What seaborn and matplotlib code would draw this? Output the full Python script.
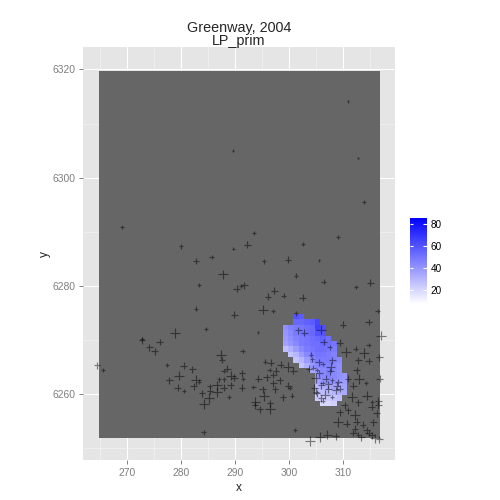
import numpy as np
import matplotlib
matplotlib.use("Agg")
import matplotlib.pyplot as plt
from matplotlib.colors import LinearSegmentedColormap
import seaborn as sns

na = np.nan

# ---- raster data: LP_prim values on a 1 km grid (rows listed from north to south) ----
blob = np.array([
    [na, na, 60, 58, na, na, na, na, na, na, na, na],
    [na, na, 54, 54, 56, 58, 64, na, na, na, na, na],
    [42, 46, 48, 50, 52, 54, 66, 62, na, na, na, na],
    [40, 44, 48, 50, 52, 54, 60, 60, na, na, na, na],
    [38, 42, 46, 48, 50, 52, 54, 56, 52, na, na, na],
    [36, 40, 44, 48, 50, 52, 52, 54, 52, 50, na, na],
    [28, 32, 38, 44, 48, 50, 52, 52, 50, 48, na, na],
    [na, 26, 30, 38, 44, 48, 50, 50, 48, 46, na, na],
    [na, na, 26, 30, 38, 44, 48, 48, 48, 46, 44, na],
    [na, na, na, 26, 32, 40, 44, 46, 46, 44, 42, na],
    [na, na, na, na, na, 34, 40, 44, 46, 44, 42, na],
    [na, na, na, na, na, na, 40, 44, 46, 44, 42, 40],
    [na, na, na, na, na, na, 36, 40, 42, 42, 40, 38],
    [na, na, na, na, na, na, 30, 32, 34, 36, 34, 36],
    [na, na, na, na, na, na, 26, 28, 28, 30, 32, 34],
    [na, na, na, na, na, na, 24, 22, 24, 26, 28, na],
    [na, na, na, na, na, na, na, 20, 20, 22, na, na],
])
fill_limits = (7.5, 86)   # range of the fill scale (from the legend)
grid_x0 = 264.8      # west edge of raster
grid_y0 = 6251.8     # south edge of raster
n_cols = 52
n_rows = 68
blob_col = 34        # column of blob's west edge
blob_row = 6         # row of blob's south edge

# ---- observation points ----
pts_x = [310.9, 289.6, 312.8, 313.9, 269.1, 293.5, 280.0, 289.7, 282.8, 285.7,
         287.8, 283.3, 290.3, 291.1, 291.7, 282.8, 289.9, 284.6, 278.9, 272.8,
         292.3, 302.6, 309.1, 295.4, 299.8, 305.5, 301.3, 306.4, 297.3, 299.0,
         296.1, 302.5, 312.4, 315.0, 295.2, 297.0, 301.3, 310.0, 314.7, 316.4,
         294.3, 301.7, 302.8, 305.9, 317.0, 264.5, 265.6, 272.8, 276.1, 274.2,
         275.2, 277.4, 280.5, 282.1, 277.9, 279.7, 279.4, 280.6, 282.4, 282.8,
         283.4, 283.9, 285.3, 285.4, 285.2, 284.3, 286.7, 286.7, 287.4, 287.6,
         288.6, 287.9, 287.1, 288.0, 287.9, 289.2, 289.3, 289.9, 291.3, 291.5,
         291.3, 291.4, 288.9, 284.2, 295.6, 296.6, 298.5, 299.8, 300.8, 297.6,
         296.4, 295.9, 297.1, 294.3, 298.3, 297.1, 299.9, 300.2, 293.4, 295.1,
         297.4, 295.4, 298.9, 300.6, 293.8, 293.7, 296.5, 294.6, 296.5, 301.1,
         309.4, 310.5, 312.3, 313.9, 314.7, 316.7, 314.7, 312.8, 312.5, 310.9,
         313.0, 314.2, 311.9, 314.4, 311.6, 312.8, 315.3, 310.3, 310.9, 309.4,
         312.2, 315.3, 316.5, 316.2, 309.1, 310.7, 312.5, 313.7, 315.6, 312.2,
         314.4, 312.8, 315.3, 315.9, 305.7, 307.1, 308.6, 303.9, 311.9, 316.7,
         306.4, 304.2, 305.5, 308.0, 307.7, 305.2, 306.8, 307.9, 309.1, 306.0,
         307.3, 308.6, 305.1, 306.7, 307.9, 306.2, 307.5, 304.1, 306.2, 304.5,
         303.7, 307.6, 305.6, 304.9, 306.2, 304.7, 307.3, 308.8, 305.0, 309.4,
         306.0, 316.8, 316.5, 313.4, 314.7]
pts_y = [6314.1, 6305.0, 6303.6, 6295.5, 6290.9, 6289.8, 6287.3, 6286.9, 6284.6, 6285.3,
         6282.1, 6280.1, 6279.5, 6280.0, 6280.1, 6275.8, 6274.7, 6272.0, 6271.3, 6270.2,
         6287.6, 6287.7, 6289.0, 6284.5, 6284.8, 6284.7, 6281.9, 6280.8, 6279.1, 6278.2,
         6278.0, 6277.8, 6279.8, 6280.6, 6275.6, 6275.4, 6274.9, 6272.8, 6273.3, 6275.3,
         6271.4, 6271.8, 6271.3, 6271.9, 6270.8, 6265.3, 6264.4, 6269.9, 6269.6, 6268.6,
         6267.9, 6265.4, 6265.2, 6264.6, 6262.5, 6263.4, 6261.2, 6260.6, 6261.4, 6262.6,
         6262.3, 6260.1, 6261.5, 6260.6, 6259.3, 6258.2, 6261.6, 6260.3, 6267.3, 6266.3,
         6264.7, 6264.2, 6262.7, 6262.7, 6261.2, 6261.6, 6263.4, 6263.0, 6263.8, 6262.8,
         6261.2, 6268.0, 6259.4, 6252.9, 6266.0, 6265.8, 6265.4, 6265.0, 6264.3, 6264.3,
         6264.4, 6263.1, 6263.5, 6262.8, 6262.5, 6262.0, 6261.5, 6261.1, 6261.3, 6260.9,
         6260.9, 6259.6, 6259.4, 6259.7, 6258.6, 6257.9, 6258.3, 6257.2, 6257.2, 6253.3,
         6269.5, 6267.8, 6268.4, 6267.6, 6269.1, 6266.8, 6266.1, 6266.2, 6264.4, 6262.8,
         6262.8, 6262.0, 6261.5, 6259.7, 6259.4, 6258.5, 6258.5, 6257.9, 6257.0, 6256.6,
         6256.1, 6257.6, 6257.9, 6256.4, 6254.8, 6254.5, 6254.9, 6254.3, 6254.8, 6253.6,
         6253.3, 6252.5, 6252.4, 6251.8, 6252.1, 6252.5, 6252.2, 6251.3, 6252.8, 6251.6,
         6269.6, 6266.4, 6265.9, 6266.2, 6265.0, 6264.4, 6262.8, 6262.5, 6262.2, 6261.6,
         6260.9, 6260.7, 6260.1, 6259.9, 6259.4, 6258.8, 6268.6, 6267.3, 6265.6, 6264.9,
         6264.7, 6264.2, 6263.8, 6263.0, 6262.0, 6261.2, 6261.8, 6261.5, 6260.4, 6261.0,
         6259.2, 6262.8, 6258.8, 6252.0, 6252.8]
pts_w = [0, 0, 0, 1, 1, 1, 1, 0, 2, 1,
         3, 1, 2, 1, 2, 1, 2, 1, 3, 1,
         2, 1, 1, 1, 2, 0, 1, 1, 2, 1,
         2, 2, 1, 2, 3, 1, 1, 2, 2, 1,
         0, 2, 2, 3, 3, 2, 1, 2, 2, 2,
         2, 1, 2, 2, 2, 3, 2, 1, 2, 3,
         1, 2, 1, 2, 3, 3, 3, 3, 3, 2,
         2, 1, 1, 1, 2, 2, 3, 2, 2, 1,
         2, 1, 1, 1, 1, 2, 2, 3, 2, 2,
         1, 2, 2, 2, 2, 2, 2, 1, 1, 2,
         2, 3, 2, 1, 3, 2, 2, 2, 3, 1,
         2, 3, 1, 3, 1, 2, 2, 2, 2, 2,
         3, 1, 2, 3, 3, 2, 1, 2, 2, 2,
         3, 2, 2, 2, 3, 2, 2, 2, 2, 2,
         2, 1, 2, 3, 3, 3, 2, 3, 2, 2,
         2, 1, 2, 2, 3, 1, 2, 1, 2, 2,
         2, 2, 2, 3, 1, 1, 1, 1, 1, 1,
         2, 2, 2, 3, 1, 2, 2, 2, 2, 2,
         2, 2, 2, 2, 2]

legend_ticks = [20, 40, 60, 80]
x_major = [270, 280, 290, 300, 310]
x_minor = [265, 275, 285, 295, 305, 315]
y_major = [6260, 6280, 6300, 6320]
y_minor = [6250, 6270, 6290, 6310]

# ---- build raster ----
grid = np.full((n_rows, n_cols), np.nan)
grid[blob_row:blob_row + blob.shape[0], blob_col:blob_col + blob.shape[1]] = blob[::-1]
x_edges = grid_x0 + np.arange(n_cols + 1)
y_edges = grid_y0 + np.arange(n_rows + 1)

cmap = LinearSegmentedColormap.from_list("wb", ["#FFFFFF", "#0000FF"])
cmap.set_bad("#666666")

sns.set_style("white")
plt.rcParams['font.family'] = ['Liberation Sans', 'DejaVu Sans']

fig = plt.figure(figsize=(5, 5), dpi=100)
ax = fig.add_axes([0.1654, 0.08, 0.6246, 0.8254])
ax.set_facecolor("#E5E5E5")

mesh = ax.pcolormesh(x_edges, y_edges, np.ma.masked_invalid(grid), cmap=cmap,
                     vmin=fill_limits[0], vmax=fill_limits[1],
                     linewidth=0, antialiased=False, zorder=1)

sns.scatterplot(x=pts_x, y=pts_y, size=pts_w, sizes={0: 3, 1: 10, 2: 24, 3: 48},
                marker="+", color="black", alpha=0.48, linewidth=0.85,
                legend=False, ax=ax, zorder=3)

ax.set_xlim(261.85, 319.6)
ax.set_ylim(6247.8, 6324.1)
ax.set_xticks(x_major)
ax.set_xticks(x_minor, minor=True)
ax.set_yticks(y_major)
ax.set_yticks(y_minor, minor=True)
ax.grid(True, which="major", color="white", linewidth=0.8, zorder=0)
ax.grid(True, which="minor", color="#F2F2F2", linewidth=0.5, zorder=0)
ax.set_axisbelow(True)
for s in ax.spines.values():
    s.set_visible(False)
ax.tick_params(which="major", length=3, width=0.7, color="#7F7F7F",
               labelcolor="#7F7F7F", labelsize=7.4, pad=2.5, direction="out",
               bottom=True, left=True)
ax.tick_params(which="minor", length=0)

ax.set_xlabel("x", fontsize=8.6, labelpad=3)
ax.set_ylabel("y", fontsize=8.6, labelpad=1)
ax.set_title("Greenway, 2004\nLP_prim", fontsize=10.4, linespacing=0.88, pad=2)

# colourbar legend
cax = fig.add_axes([0.820, 0.392, 0.0334, 0.1726])
cb = fig.colorbar(mesh, cax=cax, ticks=legend_ticks)
cb.outline.set_visible(False)
cax.tick_params(length=0, labelsize=7.2, pad=3, labelcolor="black")
cax.hlines(legend_ticks, 0, 0.2, colors="white", linewidth=0.8)
cax.hlines(legend_ticks, 0.8, 1, colors="white", linewidth=0.8)

fig.savefig("out.png", dpi=100)
